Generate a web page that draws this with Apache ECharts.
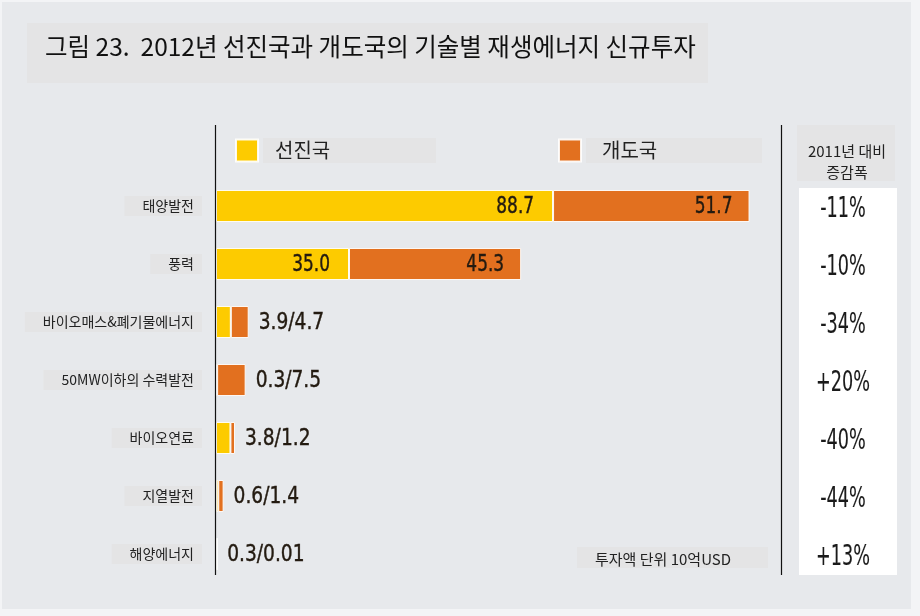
<!DOCTYPE html>
<html>
<head>
<meta charset="utf-8">
<script src="https://cdn.jsdelivr.net/npm/echarts@6/dist/echarts.min.js"></script>
<style>
html,body{margin:0;padding:0;background:#f3f4f6;}
#main{width:920px;height:616px;}
</style>
</head>
<body>
<div id="main"></div>
<script>
const titleText = '그림 23.  2012년 선진국과 개도국의 기술별 재생에너지 신규투자';
const categories = ['태양발전', '풍력', '바이오매스&폐기물에너지', '50MW이하의 수력발전', '바이오연료', '지열발전', '해양에너지'];
const seriesNames = ['선진국', '개도국'];
const developed = [88.7, 35.0, 3.9, 0.3, 3.8, 0.6, 0.3];
const developing = [51.7, 45.3, 4.7, 7.5, 1.2, 1.4, 0.01];
const developedText = ['88.7', '35.0', '3.9', '0.3', '3.8', '0.6', '0.3'];
const developingText = ['51.7', '45.3', '4.7', '7.5', '1.2', '1.4', '0.01'];
const changes = ['-11%', '-10%', '-34%', '+20%', '-40%', '-44%', '+13%'];
const changeHeader = '2011년 대비\n증감폭';
const unitNote = '투자액 단위 10억USD';

const KR = '"Noto Sans CJK KR", "Noto Sans", sans-serif';
const NUM = '"DejaVu Sans Condensed", "DejaVu Sans", sans-serif';
const YELLOW = '#fdcb00';
const ORANGE = '#e2701f';
const LABEL_COLOR = '#231a10';
const INSIDE_MIN = 20;

const chart = echarts.init(document.getElementById('main'), null, {renderer: 'canvas'});

function numText(str, x, y, align, size, scale, color, weight) {
  return {
    type: 'text', x: x, y: y, scaleX: scale, scaleY: 1,
    style: {text: str, fontFamily: NUM, fontStyle: 'condensed', fontSize: size,
            fill: color, stroke: color, lineWidth: weight, align: align, verticalAlign: 'middle'}
  };
}

const labelRows = categories.map((c, i) => [i, developed[i], developing[i]]);
const changeRows = categories.map((c, i) => [0, i]);

const option = {
  backgroundColor: '#f3f4f6',
  animation: false,
  title: [
    {text: titleText, left: 40, top: 29, textStyle: {fontFamily: KR, fontSize: 24.5, fontWeight: 'normal', color: '#111'}},
    {text: changeHeader, left: 842, top: 136, textAlign: 'center', textStyle: {fontFamily: KR, fontSize: 15, fontWeight: 'normal', color: '#222', lineHeight: 21}},
    {text: unitNote, left: 590, top: 547, textStyle: {fontFamily: KR, fontSize: 15, fontWeight: 'normal', color: '#222'}}
  ],
  graphic: [
    {type: 'rect', z: -20, shape: {x: 2, y: 2, width: 909, height: 607}, style: {fill: '#e7e9ec'}},
    {type: 'rect', z: -10, shape: {x: 27, y: 23, width: 681, height: 60}, style: {fill: '#e4e4e5'}},
    {type: 'rect', z: -10, shape: {x: 797, y: 125, width: 98, height: 56}, style: {fill: '#e4e4e5'}},
    {type: 'rect', z: -10, shape: {x: 799, y: 188, width: 98, height: 387}, style: {fill: '#ffffff'}},
    {type: 'rect', z: -10, shape: {x: 577, y: 547, width: 191, height: 21}, style: {fill: '#e4e4e5'}},
    {type: 'line', z: 10, shape: {x1: 215.5, y1: 125, x2: 215.5, y2: 575}, style: {stroke: '#111', lineWidth: 1.2}},
    {type: 'line', z: 10, shape: {x1: 781.5, y1: 125, x2: 781.5, y2: 575}, style: {stroke: '#111', lineWidth: 1.2}}
  ],
  legend: [
    {data: [seriesNames[0]], left: 235, top: 138, padding: 0, icon: 'rect', itemWidth: 22, itemHeight: 22, itemGap: 0,
     textStyle: {fontFamily: KR, fontSize: 20, color: '#222', backgroundColor: '#e4e4e5', padding: [2, 0, 2, 12], width: 161, height: 21, lineHeight: 21}},
    {data: [seriesNames[1]], left: 558, top: 138, padding: 0, icon: 'rect', itemWidth: 22, itemHeight: 22, itemGap: 0,
     textStyle: {fontFamily: KR, fontSize: 20, color: '#222', backgroundColor: '#e4e4e5', padding: [2, 0, 2, 16], width: 160, height: 21, lineHeight: 21}}
  ],
  grid: [
    {left: 216, top: 177, width: 551, height: 406},
    {left: 794, top: 177, width: 98, height: 406}
  ],
  xAxis: [
    {type: 'value', gridIndex: 0, min: 0, max: 145, show: false},
    {type: 'value', gridIndex: 1, min: -1, max: 1, show: false}
  ],
  yAxis: [
    {type: 'category', gridIndex: 0, data: categories, inverse: true,
     axisLine: {show: false}, axisTick: {show: false}, splitLine: {show: false},
     axisLabel: {fontFamily: KR, fontSize: 14, color: '#222', margin: 14, backgroundColor: '#e4e4e5', padding: [3, 8, 3, 18]}},
    {type: 'category', gridIndex: 1, data: categories, inverse: true, show: false}
  ],
  series: [
    {name: seriesNames[0], type: 'bar', stack: 'total', xAxisIndex: 0, yAxisIndex: 0, barWidth: 32,
     itemStyle: {color: YELLOW, borderColor: 'rgba(255,255,255,0.9)', borderWidth: 1},
     data: developed},
    {name: seriesNames[1], type: 'bar', stack: 'total', xAxisIndex: 0, yAxisIndex: 0, barWidth: 32,
     itemStyle: {color: ORANGE, borderColor: 'rgba(255,255,255,0.9)', borderWidth: 1},
     data: developing},
    {name: 'valueLabels', type: 'custom', xAxisIndex: 0, yAxisIndex: 0, z: 5, silent: true,
     encode: {x: [1, 2], y: 0},
     renderItem: function (params, api) {
       const i = params.dataIndex;
       const d = api.value(1), g = api.value(2), cat = api.value(0);
       const p1 = api.coord([d, cat]);
       const p2 = api.coord([d + g, cat]);
       if (d >= INSIDE_MIN) {
         return {type: 'group', children: [
           numText(developedText[i], p1[0] - 19, p1[1] + 1, 'right', 23, 0.82, LABEL_COLOR, 0.4),
           numText(developingText[i], p2[0] - 17, p2[1] + 1, 'right', 23, 0.82, LABEL_COLOR, 0.4)
         ]};
       }
       return numText(developedText[i] + '/' + developingText[i], p2[0] + 10, p2[1] + 1, 'left', 23, 0.9, LABEL_COLOR, 0.4);
     },
     data: labelRows},
    {name: 'change', type: 'custom', xAxisIndex: 1, yAxisIndex: 1, silent: true,
     encode: {x: 0, y: 1},
     renderItem: function (params, api) {
       const p = api.coord([api.value(0), api.value(1)]);
       return numText(changes[params.dataIndex], p[0], p[1] + 4, 'center', 28, 0.7, '#1a1a1a', 0.15);
     },
     data: changeRows}
  ]
};
chart.setOption(option);
</script>
</body>
</html>
